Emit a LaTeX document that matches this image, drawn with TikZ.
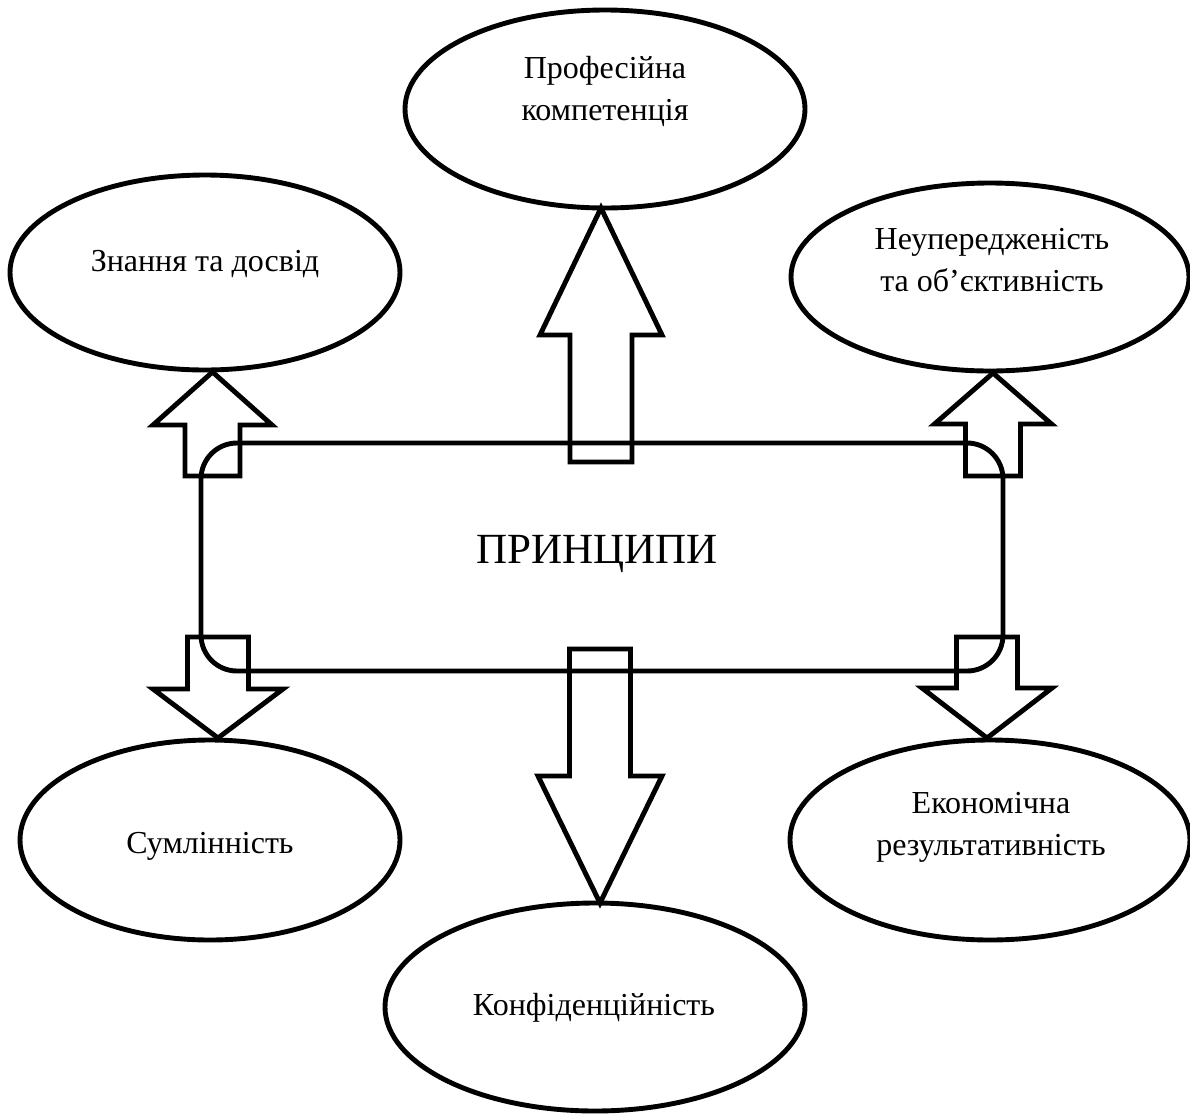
\documentclass[tikz,border=0pt]{standalone}
\usepackage{fontspec}
\setmainfont{Liberation Serif}
\usetikzlibrary{shapes.geometric}
\tikzset{
  oval/.style={draw, ellipse, line width=2.45pt, inner sep=0pt, outer sep=0pt},
  blockline/.style={draw, line width=2.45pt, line join=miter},
  txt/.style={inner sep=0pt, anchor=base, font=\fontsize{16pt}{20pt}\selectfont},
  bigtxt/.style={inner sep=0pt, anchor=base, font=\fontsize{21.5pt}{26pt}\selectfont},
  mainbox/.style={draw, rectangle, rounded corners=18pt, line width=2.45pt, inner sep=0pt, outer sep=0pt}
}
% #1 tip coordinate, #2 head length, #3 total length (signed, down = positive in picture units), #4 head half width, #5 shaft half width
\newcommand\blockarr[5]{\draw[blockline,shift={(#1)}] (0,0) -- (#4,#2) -- (#5,#2) -- (#5,#3) -- (-#5,#3) -- (-#5,#2) -- (-#4,#2) -- cycle;}
\begin{document}
\begin{tikzpicture}[x=0.5pt,y=-0.5pt]
\useasboundingbox (0,0) rectangle (1190,1115);

% central box
\node[mainbox, minimum width=401pt, minimum height=114pt] (prin) at (602,557) {};
\node[bigtxt] (prinT) at (597,563) {ПРИНЦИПИ};

% ellipses
\node[oval, minimum width=200pt, minimum height=99pt] (prof) at (605,109) {};
\node[oval, minimum width=195pt, minimum height=97.5pt] (know) at (205,272.5) {};
\node[oval, minimum width=199pt, minimum height=94pt] (neup) at (990,277) {};
\node[oval, minimum width=190pt, minimum height=100pt] (suml) at (210,840) {};
\node[oval, minimum width=200pt, minimum height=100pt] (econ) at (990,840) {};
\node[oval, minimum width=210pt, minimum height=104pt] (conf) at (595,1007) {};

% texts
\node[txt] (profA) at (605,78) {Професійна};
\node[txt] (profB) at (605,120) {компетенція};
\node[txt] (knowT) at (205,271) {Знання та досвід};
\node[txt] (neupA) at (992,249) {Неупередженість};
\node[txt] (neupB) at (992,291) {та об’єктивність};
\node[txt] (sumlT) at (210,853) {Сумлінність};
\node[txt] (econA) at (991,813) {Економічна};
\node[txt] (econB) at (991,855) {результативність};
\node[txt] (confT) at (594,1015) {Конфіденційність};

% arrow tips
\coordinate (tKnow) at (212.5,372);
\coordinate (tProf) at (601,208);
\coordinate (tNeup) at (993,373);
\coordinate (tSuml) at (218,738);
\coordinate (tConf) at (600,903);
\coordinate (tEcon) at (987,738);

% block arrows
\blockarr{tKnow}{53}{104}{59.5}{27.5}
\blockarr{tProf}{127}{254}{61}{31}
\blockarr{tNeup}{51}{103}{58.5}{27.5}
\blockarr{tSuml}{-49}{-101}{65}{30.5}
\blockarr{tConf}{-127}{-254}{62}{30.5}
\blockarr{tEcon}{-50}{-101}{65}{30.5}
\end{tikzpicture}
\end{document}
